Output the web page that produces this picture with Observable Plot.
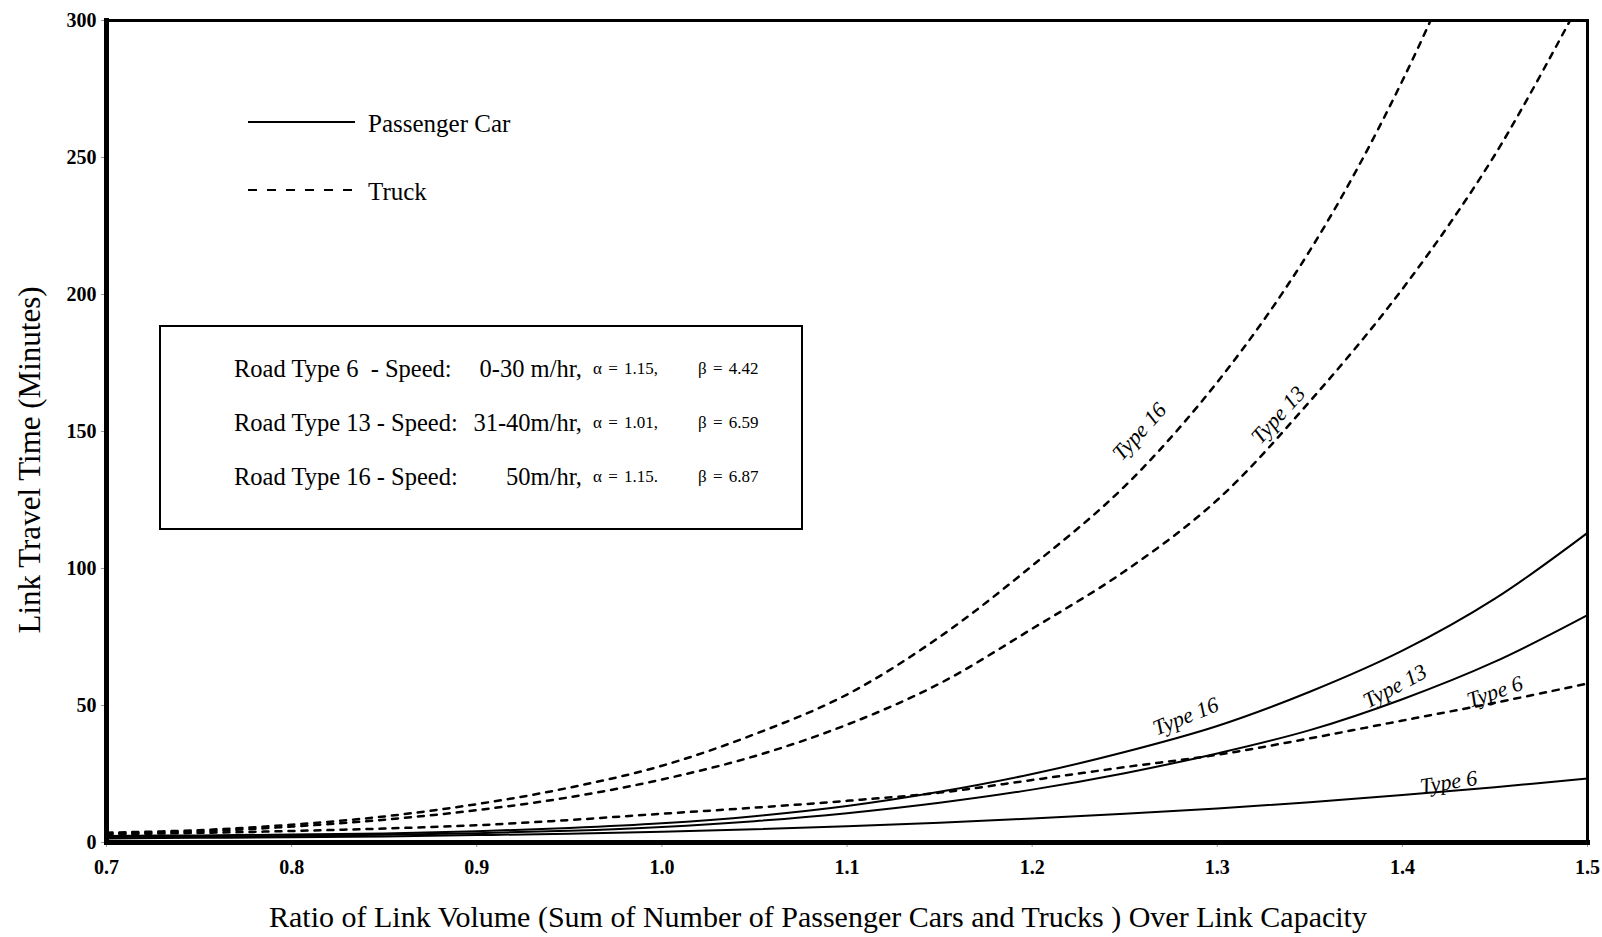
<!DOCTYPE html>
<html><head><meta charset="utf-8">
<script src="https://cdn.jsdelivr.net/npm/d3@7"></script>
<script src="https://cdn.jsdelivr.net/npm/@observablehq/plot@0.6"></script>
<style>
html,body{margin:0;padding:0;background:#fff;}
#wrap{position:relative;width:1602px;height:937px;font-family:"Liberation Serif","Times New Roman",serif;color:#000;overflow:hidden;}
#wrap svg.plot{position:absolute;left:0;top:0;}
.abs{position:absolute;white-space:pre;line-height:1;}
.box{position:absolute;border:2px solid #000;box-sizing:border-box;}
</style></head><body><div id="wrap"></div>
<script>
// x values: ratio of link volume over capacity
const ratio = [0.70,0.75,0.80,0.85,0.90,0.95,1.00,1.05,1.10,1.15,1.20,1.25,1.30,1.35,1.40,1.45,1.50];
// Truck (dashed) travel times, minutes
const truck16 = [3.6,4.5,6.5,9.5,14,20,28,39.5,54,75,101,130,168,216,278,356,448];
const truck13 = [3.3,4.0,5.8,8.3,11.8,16.5,23,31.5,43,58,78,99,125,161,202,251,312];
const truck6  = [3.0,3.5,4.2,5.1,6.3,8.2,10.5,12.7,15.2,18.2,22.8,27.5,32.0,38,44.5,51,58];
// Passenger car (solid) travel times, minutes
const car16 = [2.4,2.6,2.9,3.3,4.1,5.3,7.0,9.6,13.3,18.5,25,33,42.5,55,70,89,113];
const car13 = [2.0,2.2,2.4,2.8,3.4,4.3,5.7,7.8,10.7,14.5,19.3,25.3,32.5,41,52.3,66,83];
const car6  = [1.5,1.7,1.9,2.2,2.7,3.2,3.9,4.8,5.9,7.2,8.8,10.5,12.4,14.7,17.3,20.2,23.4];
// ticks
const xTicks = [0.7,0.8,0.9,1.0,1.1,1.2,1.3,1.4,1.5];
const yTicks = [0,50,100,150,200,250,300];
// curve labels
const labelText = ["Type 16","Type 13","Type 16","Type 13","Type 6","Type 6"];
const labelX    = [1.258,1.333,1.283,1.396,1.450,1.425];
const labelY    = [150,156,46,57,55,22];
const labelRot  = [-48,-48,-22,-28,-19,-9];
// legend rows
const roadRows = [
  ["Road Type 6  - Speed:", "0-30 m/hr,", "\u03b1 = 1.15,", "\u03b2 = 4.42"],
  ["Road Type 13 - Speed:", "31-40m/hr,", "\u03b1 = 1.01,", "\u03b2 = 6.59"],
  ["Road Type 16 - Speed:", "50m/hr,", "\u03b1 = 1.15.", "\u03b2 = 6.87"]
];

const toRows = (arr, key) => ratio.map((r, i) => ({x: r, y: arr[i], key}));
const trucks = [...toRows(truck16,"t16"), ...toRows(truck13,"t13"), ...toRows(truck6,"t6")];
const cars = [...toRows(car16,"c16"), ...toRows(car13,"c13"), ...toRows(car6,"c6")];
const labels = labelText.map((t,i)=>({text:t, x:labelX[i], y:labelY[i], r:labelRot[i]}));

const chart = Plot.plot({
  width: 1602, height: 937,
  marginLeft: 106, marginRight: 15, marginTop: 20, marginBottom: 95,
  x: {domain: [0.7, 1.5]},
  y: {domain: [0, 300]},
  style: {fontFamily: "Liberation Serif, Times New Roman, serif", fontSize: "19px", color: "#000", background: "#fff"},
  marks: [
    Plot.line(cars, {x: "x", y: "y", z: "key", stroke: "#000", strokeWidth: 2, curve: "catmull-rom"}),
    Plot.line(trucks, {x: "x", y: "y", z: "key", stroke: "#000", strokeWidth: 2.5, strokeDasharray: "6,7", curve: "catmull-rom", clip: true}),
    Plot.text(labels, {x: "x", y: "y", text: "text", rotate: "r", fontStyle: "italic", fontSize: 22, fontWeight: "normal", fill: "#000"}),
    Plot.axisX({ticks: xTicks, tickFormat: d3.format(".1f"), tickSize: 5, tickPadding: 12, label: null, fontWeight: "bold", fontSize: 20, stroke: "#999"}),
    Plot.axisY({ticks: yTicks, tickSize: 5, tickPadding: 5, label: null, fontWeight: "bold", fontSize: 20, stroke: "#999"}),
    Plot.frame({stroke: "#000", strokeWidth: 3}),
    Plot.frame({anchor: "left", stroke: "#000", strokeWidth: 5}),
    Plot.frame({anchor: "bottom", stroke: "#000", strokeWidth: 5})
  ]
});
chart.classList.add("plot");
const wrap = document.getElementById("wrap");
wrap.appendChild(chart);

function addText(txt, css){
  const s = document.createElement("div");
  s.className = "abs";
  s.textContent = txt;
  Object.assign(s.style, css);
  wrap.appendChild(s);
  return s;
}
// axis titles
addText("Ratio of Link Volume (Sum of Number of Passenger Cars and Trucks ) Over Link Capacity",
  {left: "818px", top: "917px", fontSize: "30px", transform: "translate(-50%,-50%)"});
addText("Link Travel Time (Minutes)",
  {left: "29px", top: "460px", fontSize: "31px", transform: "translate(-50%,-50%) rotate(-90deg)"});

// legend of line styles
const ns = "http://www.w3.org/2000/svg";
const lsvg = document.createElementNS(ns, "svg");
lsvg.setAttribute("width", "140"); lsvg.setAttribute("height", "100");
Object.assign(lsvg.style, {position: "absolute", left: "240px", top: "105px"});
[[17, null], [85, "9,10"]].forEach(([yy, dash]) => {
  const l = document.createElementNS(ns, "line");
  l.setAttribute("x1", 8); l.setAttribute("x2", 115);
  l.setAttribute("y1", yy); l.setAttribute("y2", yy);
  l.setAttribute("stroke", "#000"); l.setAttribute("stroke-width", "2");
  if (dash) l.setAttribute("stroke-dasharray", dash);
  lsvg.appendChild(l);
});
wrap.appendChild(lsvg);
addText("Passenger Car", {left: "368px", top: "123px", fontSize: "25px", transform: "translateY(-50%)"});
addText("Truck", {left: "368px", top: "191px", fontSize: "25px", transform: "translateY(-50%)"});

// parameter box
const box = document.createElement("div");
box.className = "box";
Object.assign(box.style, {left: "159px", top: "325px", width: "644px", height: "205px"});
wrap.appendChild(box);
const rowY = [369, 423, 477];
roadRows.forEach((row, i) => {
  const y = rowY[i] + "px";
  addText(row[0], {left: "234px", top: y, fontSize: "24.5px", transform: "translateY(-50%)"});
  addText(row[1], {left: "452px", width: "130px", textAlign: "right", top: y, fontSize: "24.5px", transform: "translateY(-50%)"});
  addText(row[2], {left: "593px", top: y, fontSize: "17px", transform: "translateY(-55%)", wordSpacing: "2px"});
  addText(row[3], {left: "698px", top: y, fontSize: "17px", transform: "translateY(-55%)", wordSpacing: "2px"});
});
</script></body></html>
